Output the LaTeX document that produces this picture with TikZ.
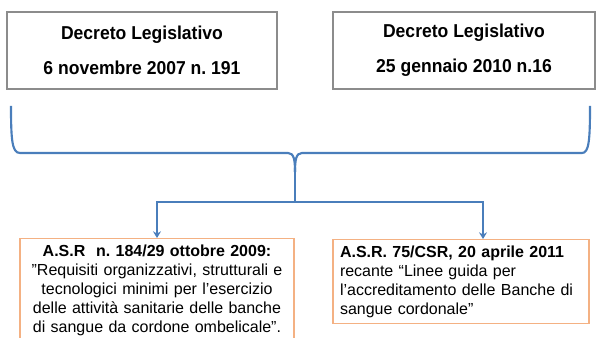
\documentclass[tikz,border=0pt]{standalone}
\usepackage{fontspec}
\setmainfont{Liberation Sans}
\newfontfamily\stretta[FakeStretch=0.94]{Liberation Sans}
\usetikzlibrary{arrows.meta}
\definecolor{bluoffice}{HTML}{4A7EBB}
\definecolor{grigio}{HTML}{8C8C8C}
\definecolor{arancio}{HTML}{F4B183}
\frenchspacing

\begin{document}
\begin{tikzpicture}[x=0.75pt, y=-0.75pt]

	\tikzstyle{decreto}=[draw=grigio, line width=0.9pt, minimum width=202.5pt, minimum height=57.75pt, align=center, font=\stretta\bfseries\fontsize{14}{26.25}\selectfont]
	\tikzstyle{accordo}=[draw=arancio, line width=1.1pt, inner ysep=4.5pt, font=\fontsize{12}{14.25}\selectfont]
	\tikzstyle{graffa}=[bluoffice, line width=1.6pt]
	\tikzstyle{freccia}=[graffa, -{Stealth[length=5pt, width=6pt]}]

	\useasboundingbox (0,0) rectangle (598,338);

	\coordinate (d_1) at (142,50.5); % DECRETO 2007
	\coordinate (d_2) at (464,50.5); % DECRETO 2010
	\coordinate (a_1) at (157,238); % ACCORDO 2009
	\coordinate (a_2) at (461,239); % ACCORDO 2011
	\coordinate (g_l) at (11,106); % GRAFFA
	\coordinate (g_r) at (590,106); % GRAFFA
	\coordinate (g_c) at (295,172); % GRAFFA
	\coordinate (g_tip) at (295,202); % PUNTA

	\node[decreto] (d_1) at (d_1) {Decreto Legislativo\\6 novembre 2007 n. 191}; % DECRETO 2007
	\node[decreto, minimum width=196.5pt] (d_2) at (d_2) {Decreto Legislativo\\25 gennaio 2010 n.16}; % DECRETO 2010

	\node[accordo, anchor=north, text width=196.5pt, inner xsep=4.5pt, align=center] (a_1) at (a_1) {{\bfseries A.S.R\ \ n. 184/29 ottobre 2009:}\\"Requisiti organizzativi, strutturali e\\tecnologici minimi per l’esercizio\\delle attività sanitarie delle banche\\di sangue da cordone ombelicale”.}; % ACCORDO 2009
	\node[accordo, anchor=north, text width=181.5pt, inner xsep=5.25pt, align=left] (a_2) at (a_2) {{\bfseries A.S.R. 75/CSR, 20 aprile 2011}\\recante “Linee guida per\\l'accreditamento delle Banche di\\sangue cordonale”}; % ACCORDO 2011

	%%%%%%%%%%%%%%%%%%%%%%%%%%%%%%%%%
	%%%%%%%%%%%% GRAFFA %%%%%%%%%%%%%
	\draw[graffa] (g_l) .. controls (11,140) and (12,153) .. (20,153) -- (288,153) .. controls (294,153) and (295,160) .. (g_c);
	\draw[graffa] (g_c) .. controls (295,160) and (296,153) .. (302,153) -- (582,153) .. controls (589,153) and (590,140) .. (g_r);
	\draw[graffa] (g_c) -- (g_tip);
	%%%%%%%%%%%%%%%%%%%%%%%%%%%%%%%%%

	%%%%%%%%%%%% FRECCE %%%%%%%%%%%%%
	\draw[freccia] (g_tip) -| (a_1);
	\draw[freccia] (g_tip) -| ([xshift=16.5pt]a_2.north);
	%%%%%%%%%%%%%%%%%%%%%%%%%%%%%%%%%
\end{tikzpicture}
\end{document}
